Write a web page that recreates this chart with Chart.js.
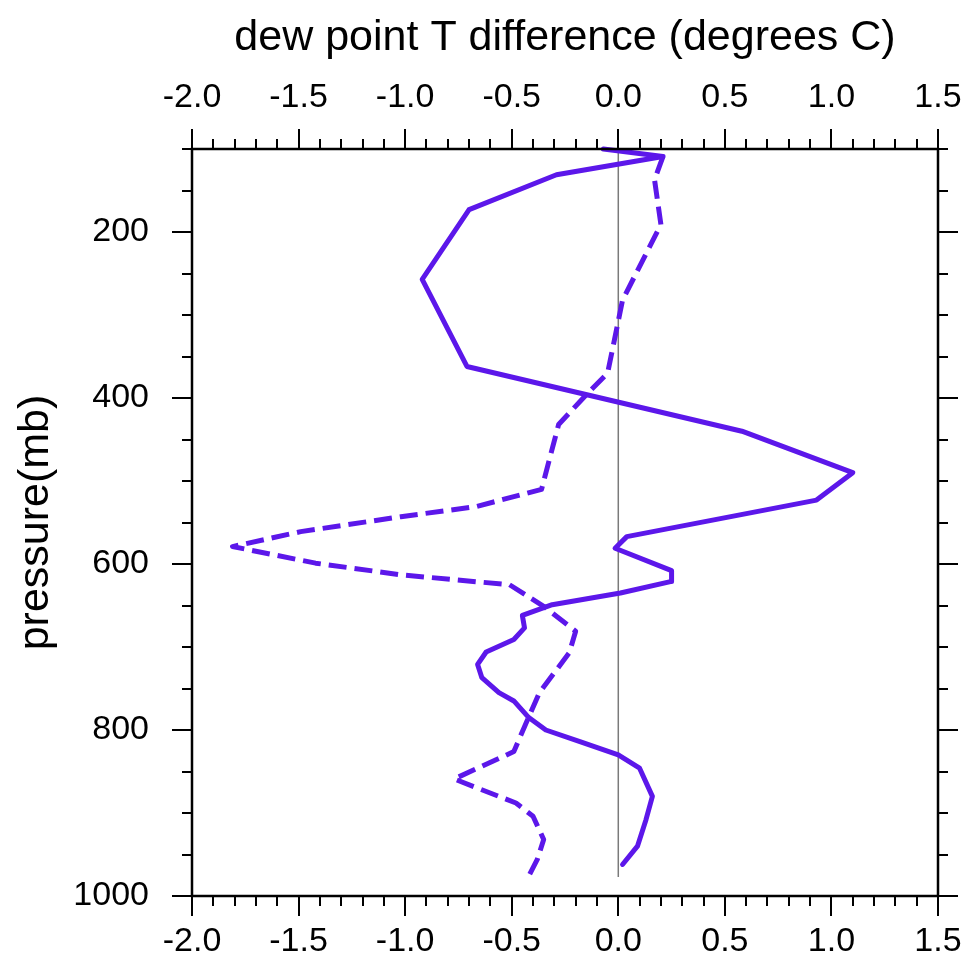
<!DOCTYPE html>
<html>
<head>
<meta charset="utf-8">
<script src="https://cdn.jsdelivr.net/npm/chart.js@4/dist/chart.umd.min.js"></script>
<style>
  html, body { margin: 0; padding: 0; background: #ffffff; }
  #wrap { width: 965px; height: 969px; position: relative; }
</style>
</head>
<body>
<div id="wrap"><canvas id="c" width="965" height="969"></canvas></div>
<script>
// ---- data ----
const pressureSolid = [100, 109, 131, 173, 257, 362, 440, 490, 523, 567, 581, 608, 621, 635, 649, 662, 677, 691, 706, 721, 737, 755, 765, 785, 800, 814, 830, 846, 880, 908, 940, 962];
const diffSolid     = [-0.07, 0.21, -0.29, -0.70, -0.92, -0.71, 0.58, 1.10, 0.93, 0.04, -0.015, 0.25, 0.25, 0.01, -0.31, -0.45, -0.44, -0.49, -0.62, -0.66, -0.64, -0.56, -0.49, -0.42, -0.34, -0.18, 0.0, 0.10, 0.16, 0.13, 0.09, 0.02];

const pressureDashed = [109, 137, 191, 282, 370, 396, 432, 510, 531, 543, 561, 579, 599, 613, 625, 651, 681, 707, 755, 796, 826, 859, 888, 904, 932, 956, 976];
const diffDashed     = [0.21, 0.17, 0.20, 0.02, -0.05, -0.15, -0.28, -0.36, -0.67, -1.02, -1.49, -1.81, -1.42, -1.02, -0.51, -0.35, -0.20, -0.23, -0.37, -0.44, -0.49, -0.77, -0.48, -0.40, -0.35, -0.38, -0.42];

const pressureZero = [100, 977];
const diffZero     = [0, 0];

const xTickValues = [-2.0, -1.5, -1.0, -0.5, 0.0, 0.5, 1.0, 1.5];
const yTickValues = [200, 400, 600, 800, 1000];
const xMinorStep = 0.1;
const yMinorStep = 50;

const xTitle = 'dew point T difference (degrees C)';
const yTitle = 'pressure(mb)';

// ---- styling ----
const FONT = "'Liberation Sans', Arial, Helvetica, sans-serif";
const LINE_COLOR = '#5c17ea';

function pts(xs, ys) { return xs.map((x, i) => ({ x: x, y: ys[i] })); }

const frameAndTicks = {
  id: 'frameAndTicks',
  afterDraw(chart) {
    const ctx = chart.ctx;
    const a = chart.chartArea;
    const xs = chart.scales.x, ys = chart.scales.y;
    const MAJ = 20, MIN = 10;
    ctx.save();
    ctx.strokeStyle = '#000';
    ctx.lineCap = 'butt';
    ctx.lineWidth = 2;
    const xMin = xTickValues[0], xMax = xTickValues[xTickValues.length - 1];
    const nx = Math.round((xMax - xMin) / xMinorStep);
    for (let i = 0; i <= nx; i++) {
      const v = xMin + i * xMinorStep;
      const major = xTickValues.some(t => Math.abs(t - v) < 1e-6);
      const L = major ? MAJ : MIN;
      const px = Math.round(xs.getPixelForValue(v));
      ctx.beginPath();
      ctx.moveTo(px, a.top); ctx.lineTo(px, a.top - L);
      ctx.moveTo(px, a.bottom); ctx.lineTo(px, a.bottom + L);
      ctx.stroke();
    }
    for (let v = ys.min; v <= ys.max + 1e-6; v += yMinorStep) {
      const major = yTickValues.indexOf(v) >= 0;
      const L = major ? MAJ : MIN;
      const py = Math.round(ys.getPixelForValue(v));
      ctx.beginPath();
      ctx.moveTo(a.left, py); ctx.lineTo(a.left - L, py);
      ctx.moveTo(a.right, py); ctx.lineTo(a.right + L, py);
      ctx.stroke();
    }
    ctx.lineWidth = 2.5;
    ctx.strokeRect(a.left, a.top, a.right - a.left, a.bottom - a.top);
    ctx.restore();
  }
};

const xTickCb = v => Number(v).toFixed(1);
const yTickCb = v => String(v);
const noSidePad = s => { s.paddingLeft = 0; s.paddingRight = 0; };

new Chart(document.getElementById('c'), {
  type: 'line',
  data: {
    datasets: [
      {
        data: pts(diffSolid, pressureSolid),
        borderColor: LINE_COLOR, borderWidth: 5, pointRadius: 0,
        tension: 0, borderJoinStyle: 'round', borderCapStyle: 'round',
        xAxisID: 'x', yAxisID: 'y'
      },
      {
        data: pts(diffDashed, pressureDashed),
        borderColor: LINE_COLOR, borderWidth: 5, pointRadius: 0,
        tension: 0, borderDash: [18, 8], borderJoinStyle: 'round', borderCapStyle: 'butt',
        xAxisID: 'x', yAxisID: 'y'
      },
      {
        data: pts(diffZero, pressureZero),
        borderColor: '#7a7a7a', borderWidth: 1.5, pointRadius: 0,
        tension: 0, xAxisID: 'x', yAxisID: 'y'
      }
    ]
  },
  options: {
    responsive: false,
    animation: false,
    devicePixelRatio: 1,
    layout: { padding: 0 },
    plugins: { legend: { display: false }, tooltip: { enabled: false } },
    elements: { line: { fill: false } },
    clip: false,
    scales: {
      x: {
        type: 'linear', position: 'top', min: -2, max: 1.5,
        afterBuildTicks: s => { s.ticks = xTickValues.map(v => ({ value: v })); },
        afterFit: s => { s.height = 149; noSidePad(s); },
        grid: { display: false, drawTicks: false },
        border: { display: false },
        ticks: { padding: 31, color: '#000', font: { family: FONT, size: 34 }, callback: xTickCb, maxRotation: 0, autoSkip: false },
        title: { display: true, text: xTitle, color: '#000', font: { family: FONT, size: 43 }, padding: { top: 12, bottom: 0 } }
      },
      x2: {
        type: 'linear', position: 'bottom', min: -2, max: 1.5,
        afterBuildTicks: s => { s.ticks = xTickValues.map(v => ({ value: v })); },
        afterFit: s => { s.height = 73; noSidePad(s); },
        grid: { display: false, drawTicks: false },
        border: { display: false },
        ticks: { padding: 25, color: '#000', font: { family: FONT, size: 34 }, callback: xTickCb, maxRotation: 0, autoSkip: false }
      },
      y: {
        type: 'linear', position: 'left', min: 100, max: 1000, reverse: true,
        afterBuildTicks: s => { s.ticks = yTickValues.map(v => ({ value: v })); },
        afterFit: s => { s.width = 192; },
        grid: { display: false, drawTicks: false },
        border: { display: false },
        ticks: { padding: 43, color: '#000', font: { family: FONT, size: 34 }, callback: yTickCb, autoSkip: false },
        title: { display: true, text: yTitle, color: '#000', font: { family: FONT, size: 43 }, padding: { top: 10, bottom: 0 } }
      },
      y2: {
        type: 'linear', position: 'right', min: 100, max: 1000, reverse: true,
        afterFit: s => { s.width = 27; },
        grid: { display: false, drawTicks: false },
        border: { display: false },
        ticks: { display: false }
      }
    }
  },
  plugins: [frameAndTicks]
});
</script>
</body>
</html>
